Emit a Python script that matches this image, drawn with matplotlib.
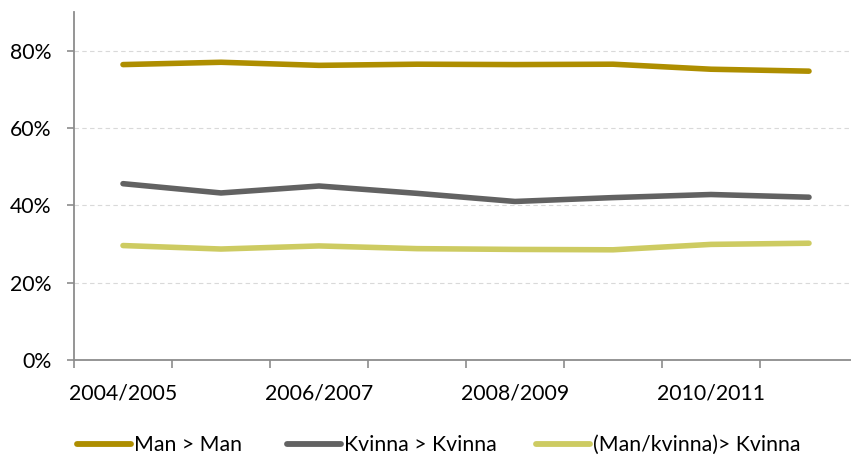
import matplotlib
matplotlib.use("Agg")
import matplotlib.pyplot as plt
from matplotlib.ticker import FixedLocator, PercentFormatter
from matplotlib.lines import Line2D

categories = ["2004/2005", "2005/2006", "2006/2007", "2007/2008",
              "2008/2009", "2009/2010", "2010/2011", "2011/2012"]
man_man = [76.4, 77.0, 76.2, 76.5, 76.4, 76.5, 75.2, 74.7]
kvinna_kvinna = [45.6, 43.2, 45.0, 43.1, 41.0, 42.0, 42.8, 42.1]
mankvinna_kvinna = [29.6, 28.7, 29.5, 28.8, 28.6, 28.5, 29.9, 30.2]
series_names = ["Man > Man", "Kvinna > Kvinna", "(Man/kvinna)> Kvinna"]
colors = ["#AE8E00", "#626262", "#CDCB62"]

plt.rcParams['font.family'] = ['Lato', 'DejaVu Sans']
FS = 15.3

W, H = 851, 455
fig = plt.figure(figsize=(W/100, H/100), dpi=100)
ax_left, ax_right, ax_top, ax_bot = 74, 858, 12, 360
ax = fig.add_axes([ax_left/W, 1-ax_bot/H, (ax_right-ax_left)/W, (ax_bot-ax_top)/H])

x = list(range(len(categories)))
lines = []
for vals, c, name in zip([man_man, kvinna_kvinna, mankvinna_kvinna], colors, series_names):
    ln, = ax.plot(x, vals, color=c, lw=4.0, solid_capstyle='round', solid_joinstyle='round', label=name)
    lines.append(ln)

ax.set_xlim(-0.5, len(categories)-0.5)
ax.set_ylim(0, 90)
ax.set_yticks([0, 20, 40, 60, 80])
ax.yaxis.set_major_formatter(PercentFormatter(decimals=0))
ax.xaxis.set_major_locator(FixedLocator([i-0.5 for i in range(len(categories))]))
ax.xaxis.set_minor_locator(FixedLocator([i for i in range(0, len(categories), 2)]))
ax.set_xticklabels([])
ax.set_xticklabels([categories[i] for i in range(0, len(categories), 2)], minor=True)
ax.tick_params(axis='x', which='major', length=5.8, color='#8c8c8c', width=1.2, direction='out')
ax.tick_params(axis='x', which='minor', length=0, pad=17, labelsize=FS)
ax.tick_params(axis='y', length=5, color='#8c8c8c', width=1.2, labelsize=FS, pad=11)

for s in ['top', 'right']:
    ax.spines[s].set_visible(False)
for s in ['left', 'bottom']:
    ax.spines[s].set_color('#8c8c8c')
    ax.spines[s].set_linewidth(1.3)

for yv in [20, 40, 60, 80]:
    ax.axhline(yv, color='#d9d9d9', lw=0.8, ls=(0, (4, 3)), zorder=0)

leg_x = [77, 287, 536]
for ln, name, lx in zip(lines, series_names, leg_x):
    h = Line2D([], [], color=ln.get_color(), lw=4.2, solid_capstyle='round')
    fig.legend([h], [name], loc='center left', bbox_to_anchor=(lx/W, 1-445/H),
               frameon=False, fontsize=FS, handlelength=2.55, handletextpad=0.15,
               borderpad=0, borderaxespad=0)

fig.savefig("out.png", dpi=100)
